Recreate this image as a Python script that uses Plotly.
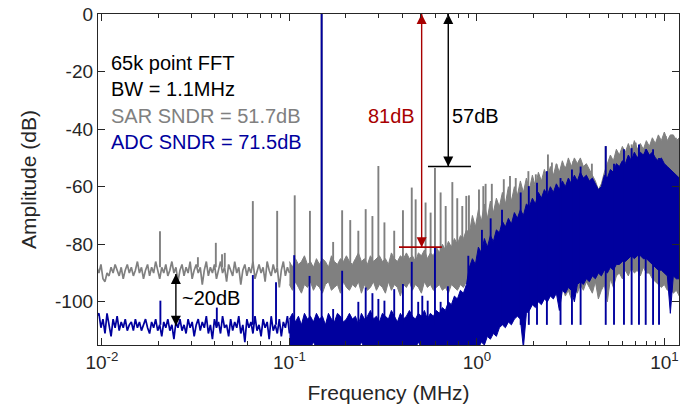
import math
import numpy as np
import plotly.graph_objects as go

# ------------------------------------------------------------------ data
# Low-frequency noise floor (dB), log-uniform samples between these frequencies (MHz)
LOW_F_START, LOW_F_STOP = 0.0094, 0.1
SAR_LOW_DB = [-88, -90, -87, -92, -93, -90, -91, -88, -90, -87, -89, -91, -88, -92, -89, -87, -90, -88, -91, -89,
              -86, -90, -88, -92, -89, -87, -91, -88, -90, -86, -89, -92, -88, -90, -87, -91, -89, -86, -90, -88,
              -93, -89, -87, -91, -88, -90, -86, -92, -89, -87, -90, -88, -94, -89, -86, -91, -88, -90, -87, -92,
              -89, -86, -90, -88, -93, -87, -89, -91, -86, -90, -88, -94, -89, -87, -91, -88, -90, -86, -92, -89,
              -87, -90, -88, -93, -86, -89, -91, -87, -90, -88, -95, -89, -86, -91, -88, -90]
ADC_LOW_DB = [-105, -104, -109, -106, -111, -104, -108, -112, -106, -109, -105, -110, -107, -109, -106, -110, -108, -107, -110, -106,
              -109, -107, -110, -108, -106, -109, -111, -107, -109, -106, -110, -108, -112, -107, -109, -106, -110, -108, -113, -107,
              -109, -106, -110, -108, -111, -106, -109, -107, -112, -108, -106, -110, -107, -109, -105, -111, -108, -113, -106, -109,
              -107, -111, -105, -109, -108, -112, -106, -110, -107, -109, -105, -111, -108, -114, -106, -109, -107, -111, -105, -110,
              -108, -112, -106, -109, -107, -113, -105, -110, -108, -111, -106, -112, -107, -109, -105, -111]

# Dense part of the spectra above 0.1 MHz: upper / lower envelope (dB), log-uniform samples
BAND_F_START, BAND_F_STOP = 0.1, 12.0
SAR_BAND_UPPER_DB = [-86, -88, -85, -87, -86, -84, -87, -86, -88, -85,
                     -87, -85, -86, -88, -84, -86, -87, -85, -86, -84,
                     -86, -87, -85, -83, -86, -85, -87, -84, -86, -85,
                     -84, -86, -85, -87, -83, -85, -86, -84, -85, -83,
                     -85, -84, -86, -83, -84, -82, -85, -83, -84, -81,
                     -83, -80, -82, -79, -81, -78, -80, -77, -78, -75,
                     -76, -70, -74, -68, -72, -66, -71, -65, -69, -64,
                     -67, -62, -66, -60, -65, -60, -63, -58, -62, -57,
                     -61, -56, -60, -55, -58, -54, -57, -53, -56, -52,
                     -55, -51, -54, -50, -53, -50, -52, -50, -53, -52,
                     -54, -56, -58, -61, -59, -55, -52, -49, -51, -47,
                     -49, -46, -48, -45, -48, -44, -47, -45, -47, -44,
                     -46, -43, -45, -42, -44, -41, -44, -42, -42, -44, -43]
SAR_BAND_LOWER_DB = [-94, -96, -93, -95, -97, -94, -95, -93, -96, -94,
                     -95, -97, -94, -93, -96, -95, -94, -97, -93, -95,
                     -96, -94, -95, -93, -97, -94, -96, -95, -93, -96,
                     -94, -95, -97, -93, -96, -94, -95, -98, -94, -95,
                     -93, -96, -94, -95, -97, -93, -95, -94, -96, -95,
                     -94, -96, -95, -97, -94, -95, -96, -94, -95, -93,
                     -92, -91, -92, -90, -91, -89, -90, -88, -89, -87,
                     -88, -87, -88, -86, -87, -85, -86, -85, -86, -84,
                     -100, -99, -101, -98, -100, -97, -99, -96, -98, -95,
                     -97, -95, -98, -96, -99, -95, -97, -94, -96, -93,
                     -95, -97, -93, -99, -96, -94, -100, -92, -95, -91,
                     -90, -92, -89, -91, -88, -90, -89, -91, -88, -90,
                     -90, -92, -93, -94, -95, -94, -96, -95, -97, -96, -98]
ADC_BAND_UPPER_DB = [-106, -104, -107, -105, -108, -104, -106, -105, -107, -104,
                     -106, -105, -108, -104, -106, -107, -104, -105, -107, -106,
                     -104, -106, -105, -108, -104, -106, -105, -103, -106, -105,
                     -107, -104, -105, -106, -103, -105, -107, -104, -106, -105,
                     -103, -105, -106, -104, -105, -103, -106, -104, -105, -103,
                     -104, -102, -103, -100, -101, -98, -99, -96, -97, -94,
                     -88, -85, -87, -81, -83, -78, -81, -77, -79, -75,
                     -76, -72, -74, -71, -73, -69, -71, -68, -70, -66,
                     -67, -64, -66, -62, -64, -61, -63, -60, -62, -59,
                     -61, -58, -60, -57, -59, -56, -58, -55, -57, -56,
                     -58, -57, -59, -61, -60, -56, -57, -54, -55, -52,
                     -53, -51, -52, -49, -51, -48, -50, -48, -49, -47,
                     -49, -48, -50, -51, -50, -52, -53, -54, -55, -56, -57]
ADC_BAND_LOWER_DB = [-116, -116, -116, -115, -116, -116, -116, -116, -114, -116,
                     -116, -116, -116, -116, -116, -116, -115, -116, -116, -116,
                     -116, -116, -116, -116, -114, -116, -116, -116, -116, -116,
                     -116, -116, -115, -116, -116, -116, -116, -116, -116, -116,
                     -116, -116, -116, -114, -116, -116, -116, -116, -116, -116,
                     -116, -116, -116, -116, -116, -116, -116, -115, -116, -116,
                     -116, -116, -116, -116, -114, -115, -112, -113, -111, -112,
                     -109, -108, -109, -107, -108, -106, -105, -106, -116, -104,
                     -103, -101, -102, -100, -101, -99, -100, -98, -99, -97,
                     -103, -96, -97, -95, -96, -100, -94, -93, -94, -92,
                     -93, -91, -92, -90, -91, -89, -90, -88, -89, -87,
                     -87, -86, -86, -85, -84, -85, -84, -84, -85, -85,
                     -86, -87, -88, -89, -89, -90, -91, -104, -91, -92, -92]

# Tones and spurs: frequency (MHz) and peak level (dB)
SAR_SPUR_MHZ = [0.0204, 0.0325, 0.0405, 0.0437, 0.0452, 0.0638, 0.086, 0.1067, 0.1286, 0.1485,
                0.171, 0.191, 0.211, 0.233, 0.255, 0.277, 0.298, 0.321, 0.362, 0.403,
                0.449, 0.471, 0.532, 0.566, 0.597, 0.640, 0.681, 0.739, 0.785, 0.835,
                0.877, 0.906, 1.025, 1.081, 1.112, 1.20, 1.39, 1.50, 1.61, 1.82,
                1.88, 2.06, 2.39, 2.51, 2.66, 2.97, 3.27, 3.50, 4.10, 4.86,
                5.71, 6.03, 6.68, 7.02, 7.94, 9.46, 10.15, 11.5]
SAR_SPUR_DB = [-75.5, -84.5, -79.5, -83.5, -83, -65, -68.4, -63, -68.4, 0,
               -79.2, -68.2, -71.6, -75.3, -67.8, -70.2, -52.8, -72.4, -75.3, -68.2,
               -60.3, -64.4, -65.5, -69, -53.5, -62, -66.7, -58.4, -64, -66.7,
               -63.2, -63, -61, -59.8, -59, -59, -57.4, -56.3, -57, -60,
               -54.6, -55.7, -48.8, -51.6, -52.2, -53, -51.1, -51, -52, -45.9,
               -49, -47, -45.3, -44.7, -46, -45.9, -42.4, -43]
ADC_SPUR_MHZ = [0.0205, 0.041, 0.0638, 0.0848, 0.106, 0.128, 0.1485, 0.171, 0.191, 0.233,
                0.255, 0.277, 0.298, 0.321, 0.362, 0.403, 0.449, 0.486, 0.511, 0.546,
                0.597, 0.64, 0.70, 0.853, 0.899, 1.063, 1.183, 1.36, 1.71, 1.89,
                2.09, 2.36, 2.79, 3.21, 3.57, 4.86, 5.38, 6.08, 6.68, 7.31,
                7.94, 8.69, 9.35]
ADC_SPUR_DB = [-99.6, -102, -90.7, -93.2, -83.8, -91, 0, -102.5, -89.2, -100,
               -95, -97, -99, -99.6, -95.6, -93.8, -86.1, -100, -97.9, -99.6,
               -81, -100, -94.6, -97.3, -84, -75, -71, -68, -62, -59.8,
               -58.6, -54.6, -57, -54, -53, -45.9, -52, -47, -46.6, -45.3,
               -47, -47, -50]
SAR_SPUR_BASE_DB = -88
ADC_SPUR_BASE_DB = -108

# Axis ticks
Y_TICKS = [0, -20, -40, -60, -80, -100]
Y_TICK_TEXT = ["0", "-20", "-40", "-60", "-80", "-100"]
X_TICKS = [0.01, 0.1, 1, 10]
X_TICK_TEXT = ["10<sup>-2</sup>", "10<sup>-1</sup>", "10<sup>0</sup>", "10<sup>1</sup>"]

# Annotated levels
RED_MARK_MHZ, RED_MARK_DB = 0.507, -81          # ADC worst spur -> 81 dB
RED_BAR_MHZ = [0.384, 0.650]
BLACK_MARK_MHZ, BLACK_MARK_DB = 0.703, -53      # SAR worst spur -> 57 dB
BLACK_BAR_MHZ = [0.548, 0.929]
TWENTY_MHZ, TWENTY_TOP_DB, TWENTY_BOT_DB = 0.0248, -90.3, -108.3

INFO_TEXT = ["65k point FFT", "BW = 1.1MHz", "SAR SNDR = 51.7dB", "ADC SNDR = 71.5dB"]
INFO_DB = [-16.9, -26.2, -35.6, -44.3]

# ------------------------------------------------------------------ style
GRAY = "#808080"
BLUE = "#00009E"
RED = "#A80000"
AX = "#262626"
FONT = "Liberation Sans, Arial, Helvetica, sans-serif"
INFO_COLORS = ["#000000", "#000000", GRAY, BLUE]

fig = go.Figure()


def band_polygon(upper, lower):
    fu = np.geomspace(BAND_F_START, BAND_F_STOP, len(upper))
    fl = np.geomspace(BAND_F_START, BAND_F_STOP, len(lower))
    xs = list(fu) + list(fl[::-1])
    ys = list(upper) + list(lower[::-1])
    return xs, ys


def spur_lines(freqs, peaks, base):
    xs, ys = [], []
    for f, p in zip(freqs, peaks):
        xs += [f, f, None]
        ys += [base, p, None]
    return xs, ys


for low, upper, lower, sf, sp, base, col in [
    (SAR_LOW_DB, SAR_BAND_UPPER_DB, SAR_BAND_LOWER_DB, SAR_SPUR_MHZ, SAR_SPUR_DB, SAR_SPUR_BASE_DB, GRAY),
    (ADC_LOW_DB, ADC_BAND_UPPER_DB, ADC_BAND_LOWER_DB, ADC_SPUR_MHZ, ADC_SPUR_DB, ADC_SPUR_BASE_DB, BLUE),
]:
    fx = np.geomspace(LOW_F_START, LOW_F_STOP, len(low))
    fig.add_trace(go.Scatter(x=fx, y=low, mode="lines", line=dict(color=col, width=1.7),
                             hoverinfo="skip"))
    bx, by = band_polygon(upper, lower)
    fig.add_trace(go.Scatter(x=bx, y=by, mode="lines", fill="toself", fillcolor=col,
                             line=dict(color=col, width=1), hoverinfo="skip"))
    spx, spy = spur_lines(sf, sp, base)
    fig.add_trace(go.Scatter(x=spx, y=spy, mode="lines", line=dict(color=col, width=1.9),
                             hoverinfo="skip"))

# horizontal reference bars
fig.add_trace(go.Scatter(x=RED_BAR_MHZ, y=[RED_MARK_DB] * 2, mode="lines",
                         line=dict(color=RED, width=1.6), hoverinfo="skip"))
fig.add_trace(go.Scatter(x=BLACK_BAR_MHZ, y=[BLACK_MARK_DB] * 2, mode="lines",
                         line=dict(color="#000000", width=1.6), hoverinfo="skip"))


# double-headed arrows: a line with arrow markers whose tips sit on the end points
def double_arrow(f, y_top, y_bot, color):
    fig.add_trace(go.Scatter(
        x=[f, f], y=[y_top, y_bot], mode="lines+markers",
        line=dict(color=color, width=1.4),
        marker=dict(symbol=["arrow-up", "arrow-down"], size=10, color=color,
                    line=dict(width=0)),
        cliponaxis=False, hoverinfo="skip"))


double_arrow(RED_MARK_MHZ, 0, RED_MARK_DB, RED)
double_arrow(BLACK_MARK_MHZ, 0, BLACK_MARK_DB, "#000000")
double_arrow(TWENTY_MHZ, TWENTY_TOP_DB, TWENTY_BOT_DB, "#000000")

ann = []
ann.append(dict(x=math.log10(0.352), y=-35.6, xref="x", yref="y", text="81dB", showarrow=False,
                font=dict(color=RED, size=20), xanchor="center", yanchor="middle"))
ann.append(dict(x=math.log10(0.988), y=-35.6, xref="x", yref="y", text="57dB", showarrow=False,
                font=dict(color="#000000", size=20), xanchor="center", yanchor="middle"))
ann.append(dict(x=math.log10(0.0261), y=-98.7, xref="x", yref="y", text="~20dB", showarrow=False,
                font=dict(color="#000000", size=20), xanchor="left", yanchor="middle"))
for t, yv, c in zip(INFO_TEXT, INFO_DB, INFO_COLORS):
    ann.append(dict(x=math.log10(0.0109), y=yv, xref="x", yref="y", text=t, showarrow=False,
                    font=dict(color=c, size=20), xanchor="left", yanchor="middle"))

fig.update_layout(
    width=694, height=415,
    margin=dict(l=98, r=15, t=14, b=70),
    paper_bgcolor="white", plot_bgcolor="white",
    showlegend=False,
    font=dict(family=FONT, size=19, color=AX),
    annotations=ann,
)
fig.update_xaxes(
    type="log", range=[math.log10(0.00953), math.log10(11.95)],
    tickmode="array", tickvals=X_TICKS, ticktext=X_TICK_TEXT,
    showline=True, linecolor=AX, linewidth=1.3, mirror="ticks",
    ticks="inside", ticklen=7, tickcolor=AX, tickwidth=1.2, ticklabeloverflow="allow",
    minor=dict(ticks="inside", ticklen=4, tickcolor=AX, dtick="D1", showgrid=False),
    showgrid=False, zeroline=False, automargin=False,
    title=dict(text="Frequency (MHz)", font=dict(size=21), standoff=13),
)
fig.update_yaxes(
    range=[-115, 0], tickmode="array", tickvals=Y_TICKS, ticktext=Y_TICK_TEXT,
    showline=True, linecolor=AX, linewidth=1.3, mirror="ticks",
    ticks="inside", ticklen=7, tickcolor=AX, tickwidth=1.2, ticklabeloverflow="allow",
    showgrid=False, zeroline=False, automargin=False,
    title=dict(text="Amplitude (dB)", font=dict(size=21), standoff=12),
)

# remove the browser's default 8 px page margin so the 694x415 figure fills the window
fig.write_html("out.html", config={"displayModeBar": False},
               post_script="document.body.style.margin='0px';")
